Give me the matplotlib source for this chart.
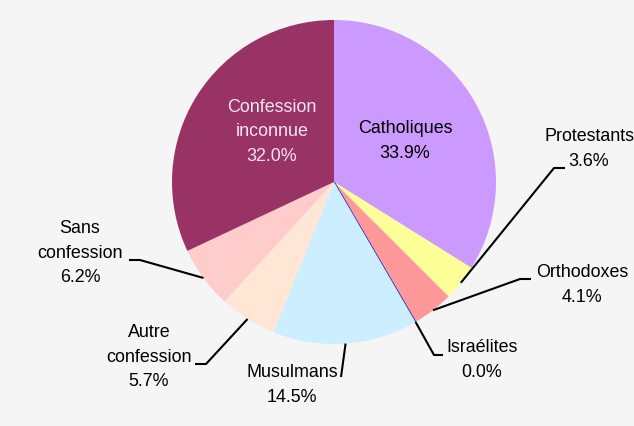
import numpy as np
import matplotlib
matplotlib.use("Agg")
import matplotlib.pyplot as plt

# ----------------------------------
# DATA
# ----------------------------------

labels = ['Catholiques', 'Protestants', 'Orthodoxes', 'Israélites',
          'Musulmans', 'Autre\nconfession', 'Sans\nconfession',
          'Confession\ninconnue']
values = [33.9, 3.6, 4.1, 0.02, 14.5, 5.7, 6.2, 32.0]
colors = ['#cc99ff', '#ffff99', '#ff9999', '#3333cc',
          '#cceeff', '#ffe6d5', '#ffcccc', '#993366']

plt.rcParams['font.family'] = ['Liberation Sans', 'DejaVu Sans']

# ----------------------------------
# FIGURE
# ----------------------------------

bg = '#f5f5f5'
fig = plt.figure(figsize=(6.34, 4.26), dpi=100, facecolor=bg)
ax = fig.add_axes([0, 0, 1, 1])
ax.set_facecolor(bg)

wedges, _ = ax.pie(values, colors=colors, startangle=90, counterclock=False,
                   radius=1, wedgeprops=dict(linewidth=0))
wedges[3].set_edgecolor('#3333cc')
wedges[3].set_linewidth(0.8)

ax.set_aspect('auto')
ax.set_xlim(-334 / 162, 300 / 162)
ax.set_ylim(-244 / 162, 182 / 162)
ax.axis('off')

fs = 12.9
ls = 1.6

# inside labels
ax.text((405 - 334) / 162, (182 - 141) / 162, 'Catholiques\n33.9%',
        ha='center', va='center', fontsize=fs, color='black', linespacing=ls)
ax.text((272 - 334) / 162, (182 - 132) / 162, 'Confession\ninconnue\n32.0%',
        ha='center', va='center', fontsize=fs, color='#f3e6ee', linespacing=ls)

# outside labels with leader lines: (index, elbow px, end px, text px)
outside = [
    (1, (554, 168), (565, 168), (589, 149)),
    (2, (520, 279), (531, 279), (582, 285)),
    (3, (434, 355), (443, 355), (482, 360)),
    (4, (341, 377), (341, 377), (292, 385)),
    (5, (206, 364), (195, 364), (149, 357)),
    (6, (140, 260), (129, 260), (80, 253)),
]

def px(p):
    return ((p[0] - 334) / 162, (182 - p[1]) / 162)

for i, elbow, end, txt in outside:
    w = wedges[i]
    mid = np.deg2rad((w.theta1 + w.theta2) / 2)
    start = (np.cos(mid), np.sin(mid))
    e = px(elbow)
    n = px(end)
    ax.plot([start[0], e[0], n[0]], [start[1], e[1], n[1]],
            color='black', lw=1.5, solid_capstyle='butt')
    t = px(txt)
    ax.text(t[0], t[1], f"{labels[i]}\n{values[i]:.1f}%", ha='center', va='center',
            fontsize=fs, color='black', linespacing=ls)

plt.savefig("out.png", dpi=100, facecolor=bg)
plt.close()
